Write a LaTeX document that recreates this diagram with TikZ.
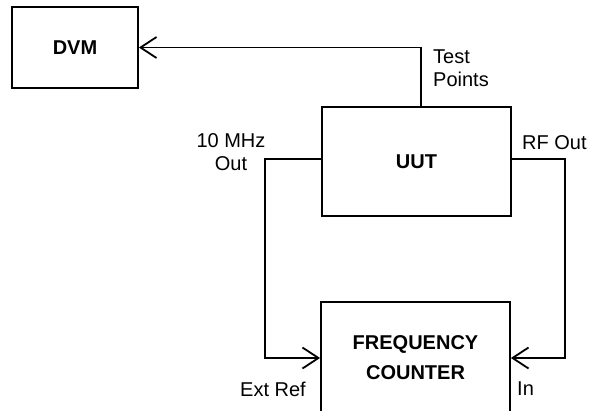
\documentclass[tikz,border=0pt]{standalone}
\usepackage{fontspec}
\setmainfont{Liberation Sans}
\usetikzlibrary{arrows.meta}

\begin{document}
\begin{tikzpicture}[
    x=1pt, y=-1pt,
    box/.style={draw, line width=1.8pt, text centered, align=center,
                font=\fontsize{20}{30}\selectfont\bfseries},
    lbl/.style={inner sep=0pt, font=\fontsize{20}{23}\selectfont},
    arr/.style={-{Straight Barb[length=16pt,width=21pt,line width=1.8pt]}, line width=1.8pt},
  ]
    \useasboundingbox (0,0) rectangle (592,410);
    \clip (0,0) rectangle (592,410);

    % Boxes ------------------------------------------------------------------
    \node[box, minimum width=126pt, minimum height=81pt]  (dvm) at (75,47.5)    {DVM};
    \node[box, minimum width=189pt, minimum height=109pt] (uut) at (416.5,161.5) {UUT};
    \node[box, minimum width=189pt, minimum height=112pt] (fc)  at (415.5,358)  {FREQUENCY\\COUNTER};

    % Labels -----------------------------------------------------------------
    \node[lbl, anchor=north west, align=left] (tp)     at (433,50)  {Test\\Points};
    \node[lbl, anchor=north, align=center]    (mhz)    at (231,133) {10 MHz\\Out};
    \node[lbl, anchor=north west]             (rfout)  at (522,135) {RF Out};
    \node[lbl, anchor=north west]             (extref) at (240,382) {Ext Ref};
    \node[lbl, anchor=north west]             (inlbl)  at (517,382) {In};

    % Arrows -----------------------------------------------------------------
    \draw[arr] ([xshift=4.5pt]uut.north)  |- (dvm.east);
    \draw[arr] ([yshift=2.5pt]uut.west) -- ++(-56,0) |- (fc.west);
    \draw[arr] ([yshift=2.5pt]uut.east) -- ++(53,0)  |- (fc.east);
  \end{tikzpicture}
\end{document}
